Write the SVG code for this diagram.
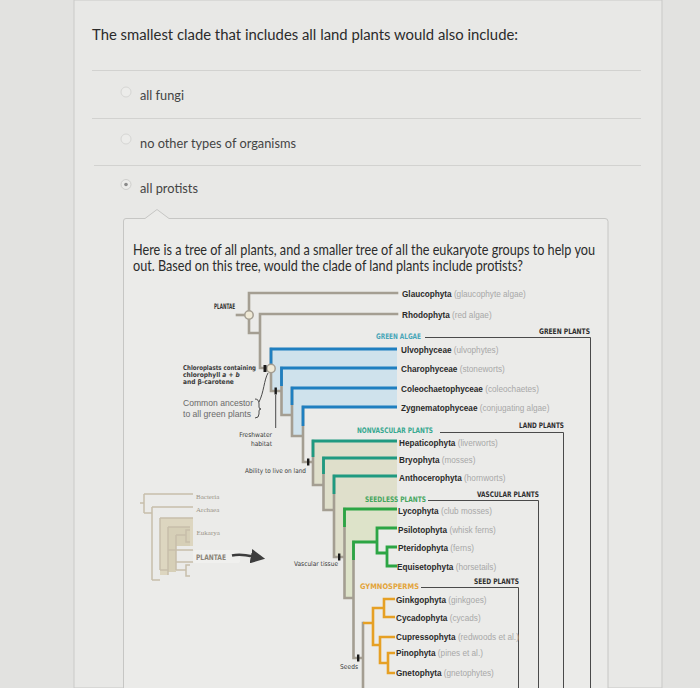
<svg xmlns="http://www.w3.org/2000/svg" width="700" height="688" viewBox="0 0 700 688">
<style>
.q{font-family:Lato,"Liberation Sans",sans-serif;fill:#2b2b2b}
.ans{font-family:Lato,"Liberation Sans",sans-serif;fill:#444;font-size:13px}
.nm{font-family:"Liberation Sans",Arial,sans-serif;font-size:8.2px;font-weight:bold;fill:#2a2a2a}
.cm{font-weight:normal;fill:#a8a8a8}
.br{fill:none;stroke:#a49e92;stroke-width:2.6;stroke-linecap:square}
.bl{fill:none;stroke:#1f7fc0;stroke-width:2.8}
.tl{fill:none;stroke:#1f9a80;stroke-width:2.8}
.gr{fill:none;stroke:#2ca544;stroke-width:2.8}
.or{fill:none;stroke:#e6a024;stroke-width:2.6}
.bk{fill:none;stroke:#4a4a4a;stroke-width:1}
.cl{font-family:"DejaVu Sans Condensed","Liberation Sans",sans-serif;font-size:7.6px;font-weight:bold}
.lb{font-family:"DejaVu Sans Condensed","Liberation Sans",sans-serif;font-size:6.6px;fill:#3a3a3a}
.tk{fill:#1a1a1a}
.sm{fill:none;stroke:#c7bfaa;stroke-width:1.5}
.st{font-family:"Liberation Serif",serif;font-size:7px;fill:#9a9488}
</style>
<defs>
<marker id="ah" markerWidth="6" markerHeight="6" refX="3" refY="3" orient="auto" markerUnits="strokeWidth"><path d="M0,0 L6,3 L0,6 z" fill="#3d3d3d"/></marker>
</defs>
<rect width="700" height="688" fill="#e2e2e0"/>
<rect x="74" y="0" width="588" height="688" fill="#e8e8e6" stroke="#c9c9c7" stroke-width="1"/>
<g id="question">
<text class="q" x="92" y="40" font-size="15.5" textLength="426" lengthAdjust="spacingAndGlyphs">The smallest clade that includes all land plants would also include:</text>
<line x1="92" y1="70.5" x2="641" y2="70.5" stroke="#d2d2d0"/>
<circle cx="126" cy="92" r="5" fill="#ececea" stroke="#d6d6d4"/>
<text class="ans" x="140" y="100" textLength="44" lengthAdjust="spacingAndGlyphs">all fungi</text>
<line x1="92" y1="118.5" x2="641" y2="118.5" stroke="#d2d2d0"/>
<circle cx="126" cy="139" r="5" fill="#ececea" stroke="#d6d6d4"/>
<text class="ans" x="140" y="147.5" textLength="156" lengthAdjust="spacingAndGlyphs">no other types of organisms</text>
<line x1="94" y1="165.5" x2="641" y2="165.5" stroke="#d2d2d0"/>
<circle cx="126" cy="184.5" r="5" fill="#ececea" stroke="#cfcfcd"/>
<circle cx="126" cy="184.5" r="1.8" fill="#8a8a8a"/>
<text class="ans" x="140" y="193" textLength="58" lengthAdjust="spacingAndGlyphs">all protists</text>
</g>
<g id="comment">
<path d="M123.5,688 V221 Q123.5,218.5 126,218.5 H145 L157,209.5 L169,218.5 H605 Q608,218.5 608,221.5 V688" fill="#ebebe9" stroke="#c6c6c4" stroke-width="1"/>
<text class="q" x="133" y="254.5" font-size="15" textLength="462" lengthAdjust="spacingAndGlyphs">Here is a tree of all plants, and a smaller tree of all the eukaryote groups to help you</text>
<text class="q" x="133" y="271" font-size="15" textLength="390" lengthAdjust="spacingAndGlyphs">out. Based on this tree, would the clade of land plants include protists?</text>
</g>
<g id="shading">
<path d="M271,349 H397 V368 H281.5 V391 H271 Z" fill="#cfe2ec"/>
<path d="M281.5,368 H397 V388 H292 V415 H281.5 Z" fill="#cfe2ec"/>
<path d="M292,388 H397 V407 H303 V436 H292 Z" fill="#cfe2ec"/>
<path d="M313,441 H397 V458 H323.5 V485 H313 Z" fill="#dfdfcb"/>
<path d="M323.5,458 H397 V476 H334 V510 H323.5 Z" fill="#dfdfcb"/>
<path d="M334,476 H397 V509 H344.5 V557 H334 Z" fill="#dfdfcb"/>
<path d="M344.5,509 H397 V528 H377 V542 H353.5 V598 H344.5 Z" fill="#dde3c9"/>
</g>
<g id="connectors">
<path class="br" d="M397,293 H249 V333 H260 M397,314 H260 V368 H271 M271,349 V391 H281.5 M281.5,368 V415 H292 M292,388 V436 H303 M303,407 V462 H313 M313,441 V485 H323.5 M323.5,458 V510 H334 M334,476 V557 H344.5 M344.5,509 V598 H353.5 M353.5,542 V658 H363 M363,623 V690"/>
<path class="br" d="M237,315 H246"/>
<path class="bl" d="M397,349 H271 V366 M397,368 H281.5 V386 M397,388 H292 V405 M397,407 H303 V426"/>
<path class="tl" d="M397,441 H313 V457 M397,458 H323.5 V474 M397,476 H334 V494"/>
<path class="gr" d="M397,509 H344.5 V527 M353.5,560 V542 H377 M397,528 H377 V553 H387 M397,547 H387 V566 H397"/>
<path class="or" d="M363,623 H373 M384,608 H373 V645 H380 M395,599 H384 V617 H395 M395,637 H380 V663 H388 M395,653 H388 V673 H395"/>
<circle cx="249" cy="315" r="4.2" fill="#efe9d6" stroke="#a49e92" stroke-width="1.5"/>
<circle cx="271" cy="368.5" r="4.2" fill="#efe9d6" stroke="#a49e92" stroke-width="1.5"/>
<rect class="tk" x="263.5" y="365" width="3" height="7"/>
<rect class="tk" x="274.5" y="387.5" width="2.4" height="7"/>
<rect class="tk" x="307" y="458.5" width="2.4" height="7"/>
<rect class="tk" x="338" y="553.5" width="2.4" height="7"/>
<rect class="tk" x="357" y="654.5" width="2.4" height="7"/>
<path class="bk" d="M275.7,395 V428"/>
<path class="bk" d="M268,373 C264,380 264,392 259,402"/>
<path class="bk" d="M255,399 Q259,399 259,404 V407 Q259,409 261,409 Q259,409 259,411 V414 Q259,418 255,418"/>
<path class="bk" d="M425,337.5 H590.5 V690"/>
<path class="bk" d="M440,432.5 H563.5 V690"/>
<path class="bk" d="M428,500.5 H538.5 V690"/>
<path class="bk" d="M421,587.5 H518.5 V690"/>
</g>
<g id="plantae-label"><text class="cl" x="235" y="309" text-anchor="end" fill="#333" textLength="21" lengthAdjust="spacingAndGlyphs">PLANTAE</text></g>
<g id="char-chlorophyll">
<text class="lb" x="183" y="369.5" font-weight="bold" textLength="73" lengthAdjust="spacingAndGlyphs">Chloroplasts containing</text>
<text class="lb" x="183" y="376.5" font-weight="bold">chlorophyll <tspan font-style="italic">a</tspan> + <tspan font-style="italic">b</tspan></text>
<text class="lb" x="183" y="383.5" font-weight="bold">and β-carotene</text>
</g>
<g id="common-ancestor">
<text x="183" y="406" font-family="Liberation Sans,sans-serif" font-size="8.4" fill="#6a6a6a" textLength="70" lengthAdjust="spacingAndGlyphs">Common ancestor</text>
<text x="183" y="416.5" font-family="Liberation Sans,sans-serif" font-size="8.4" fill="#6a6a6a" textLength="68" lengthAdjust="spacingAndGlyphs">to all green plants</text>
</g>
<g id="char-freshwater">
<text class="lb" x="272" y="437" text-anchor="end">Freshwater</text>
<text class="lb" x="272" y="446" text-anchor="end">habitat</text>
</g>
<g id="char-land"><text class="lb" x="306" y="473" text-anchor="end" textLength="61" lengthAdjust="spacingAndGlyphs">Ability to live on land</text></g>
<g id="char-vascular"><text class="lb" x="338" y="566" text-anchor="end" textLength="44" lengthAdjust="spacingAndGlyphs">Vascular tissue</text></g>
<g id="char-seeds"><text class="lb" x="358" y="669" text-anchor="end">Seeds</text></g>
<g id="clade-green-algae"><text class="cl" x="376" y="339" fill="#48a6b8" textLength="45" lengthAdjust="spacingAndGlyphs">GREEN ALGAE</text></g>
<g id="clade-green-plants"><text class="cl" x="590" y="333.5" text-anchor="end" fill="#2f2f2f" textLength="51" lengthAdjust="spacingAndGlyphs">GREEN PLANTS</text></g>
<g id="clade-nonvascular"><text class="cl" x="357" y="433" fill="#38a890" textLength="76" lengthAdjust="spacingAndGlyphs">NONVASCULAR PLANTS</text></g>
<g id="clade-land"><text class="cl" x="564" y="428" text-anchor="end" fill="#2f2f2f" textLength="45" lengthAdjust="spacingAndGlyphs">LAND PLANTS</text></g>
<g id="clade-seedless"><text class="cl" x="365" y="502" fill="#45a65e" textLength="61" lengthAdjust="spacingAndGlyphs">SEEDLESS PLANTS</text></g>
<g id="clade-vascular"><text class="cl" x="539" y="497" text-anchor="end" fill="#2f2f2f" textLength="62" lengthAdjust="spacingAndGlyphs">VASCULAR PLANTS</text></g>
<g id="clade-gymnosperms"><text class="cl" x="360" y="589" fill="#e3a43a" textLength="59" lengthAdjust="spacingAndGlyphs">GYMNOSPERMS</text></g>
<g id="clade-seed"><text class="cl" x="519" y="584" text-anchor="end" fill="#2f2f2f" textLength="45" lengthAdjust="spacingAndGlyphs">SEED PLANTS</text></g>
<g id="glaucophyta"><text class="nm" x="402" y="296.5">Glaucophyta <tspan class="cm">(glaucophyte algae)</tspan></text></g>
<g id="rhodophyta"><text class="nm" x="402" y="318">Rhodophyta <tspan class="cm">(red algae)</tspan></text></g>
<g id="ulvophyceae"><text class="nm" x="401" y="353">Ulvophyceae <tspan class="cm">(ulvophytes)</tspan></text></g>
<g id="charophyceae"><text class="nm" x="401" y="372">Charophyceae <tspan class="cm">(stoneworts)</tspan></text></g>
<g id="coleochaetophyceae"><text class="nm" x="401" y="391.5">Coleochaetophyceae <tspan class="cm">(coleochaetes)</tspan></text></g>
<g id="zygnematophyceae"><text class="nm" x="401" y="411">Zygnematophyceae <tspan class="cm">(conjugating algae)</tspan></text></g>
<g id="hepaticophyta"><text class="nm" x="399" y="445.5">Hepaticophyta <tspan class="cm">(liverworts)</tspan></text></g>
<g id="bryophyta"><text class="nm" x="399" y="463">Bryophyta <tspan class="cm">(mosses)</tspan></text></g>
<g id="anthocerophyta"><text class="nm" x="399" y="480.5">Anthocerophyta <tspan class="cm">(hornworts)</tspan></text></g>
<g id="lycophyta"><text class="nm" x="398" y="513.5">Lycophyta <tspan class="cm">(club mosses)</tspan></text></g>
<g id="psilotophyta"><text class="nm" x="398" y="532.5">Psilotophyta <tspan class="cm">(whisk ferns)</tspan></text></g>
<g id="pteridophyta"><text class="nm" x="398" y="551">Pteridophyta <tspan class="cm">(ferns)</tspan></text></g>
<g id="equisetophyta"><text class="nm" x="397" y="570">Equisetophyta <tspan class="cm">(horsetails)</tspan></text></g>
<g id="ginkgophyta"><text class="nm" x="396" y="602.5">Ginkgophyta <tspan class="cm">(ginkgoes)</tspan></text></g>
<g id="cycadophyta"><text class="nm" x="396" y="620.5">Cycadophyta <tspan class="cm">(cycads)</tspan></text></g>
<g id="cupressophyta"><text class="nm" x="396" y="639.5">Cupressophyta <tspan class="cm">(redwoods et al.)</tspan></text></g>
<g id="pinophyta"><text class="nm" x="396" y="656">Pinophyta <tspan class="cm">(pines et al.)</tspan></text></g>
<g id="gnetophyta"><text class="nm" x="396" y="676">Gnetophyta <tspan class="cm">(gnetophytes)</tspan></text></g>
<g id="eukaryote-tree">
<path d="M160,518 H193 V546 H168 V575 H160 Z" fill="#ddd6c0"/>
<path d="M168,527 H190 V546 H176 V572 H168 Z" fill="#d6cfb7"/>
<path class="sm" d="M140,503 H144 M144,494 V513 M144,494 H193 M144,513 H152 M152,507 V580 M152,507 H193 M152,580 H160 M160,518 V570 M160,518 H193 M160,570 H168 M168,527 V575 M168,527 H190 M176,535 V570 M176,535 H186 V530 H190 M186,535 V542 H190 M168,550 H193 M176,562 H193 M176,570 H186 V565 H190 M186,570 V576 H190"/>
<text class="st" x="196" y="498.5">Bacteria</text>
<text class="st" x="196" y="511.5">Archaea</text>
<text class="st" x="196.5" y="535">Eukarya</text>
<rect x="193" y="550" width="47" height="13" rx="2" fill="#f2f2f0" opacity="0.7"/>
<text class="cl" x="196" y="559.5" fill="#8a8478" font-size="7" textLength="30" lengthAdjust="spacingAndGlyphs">PLANTAE</text>
<path d="M232,555.5 C242,553 250,556 258,557.5" fill="none" stroke="#3d3d3d" stroke-width="2.4" marker-end="url(#ah)"/>
</g>
</svg>
